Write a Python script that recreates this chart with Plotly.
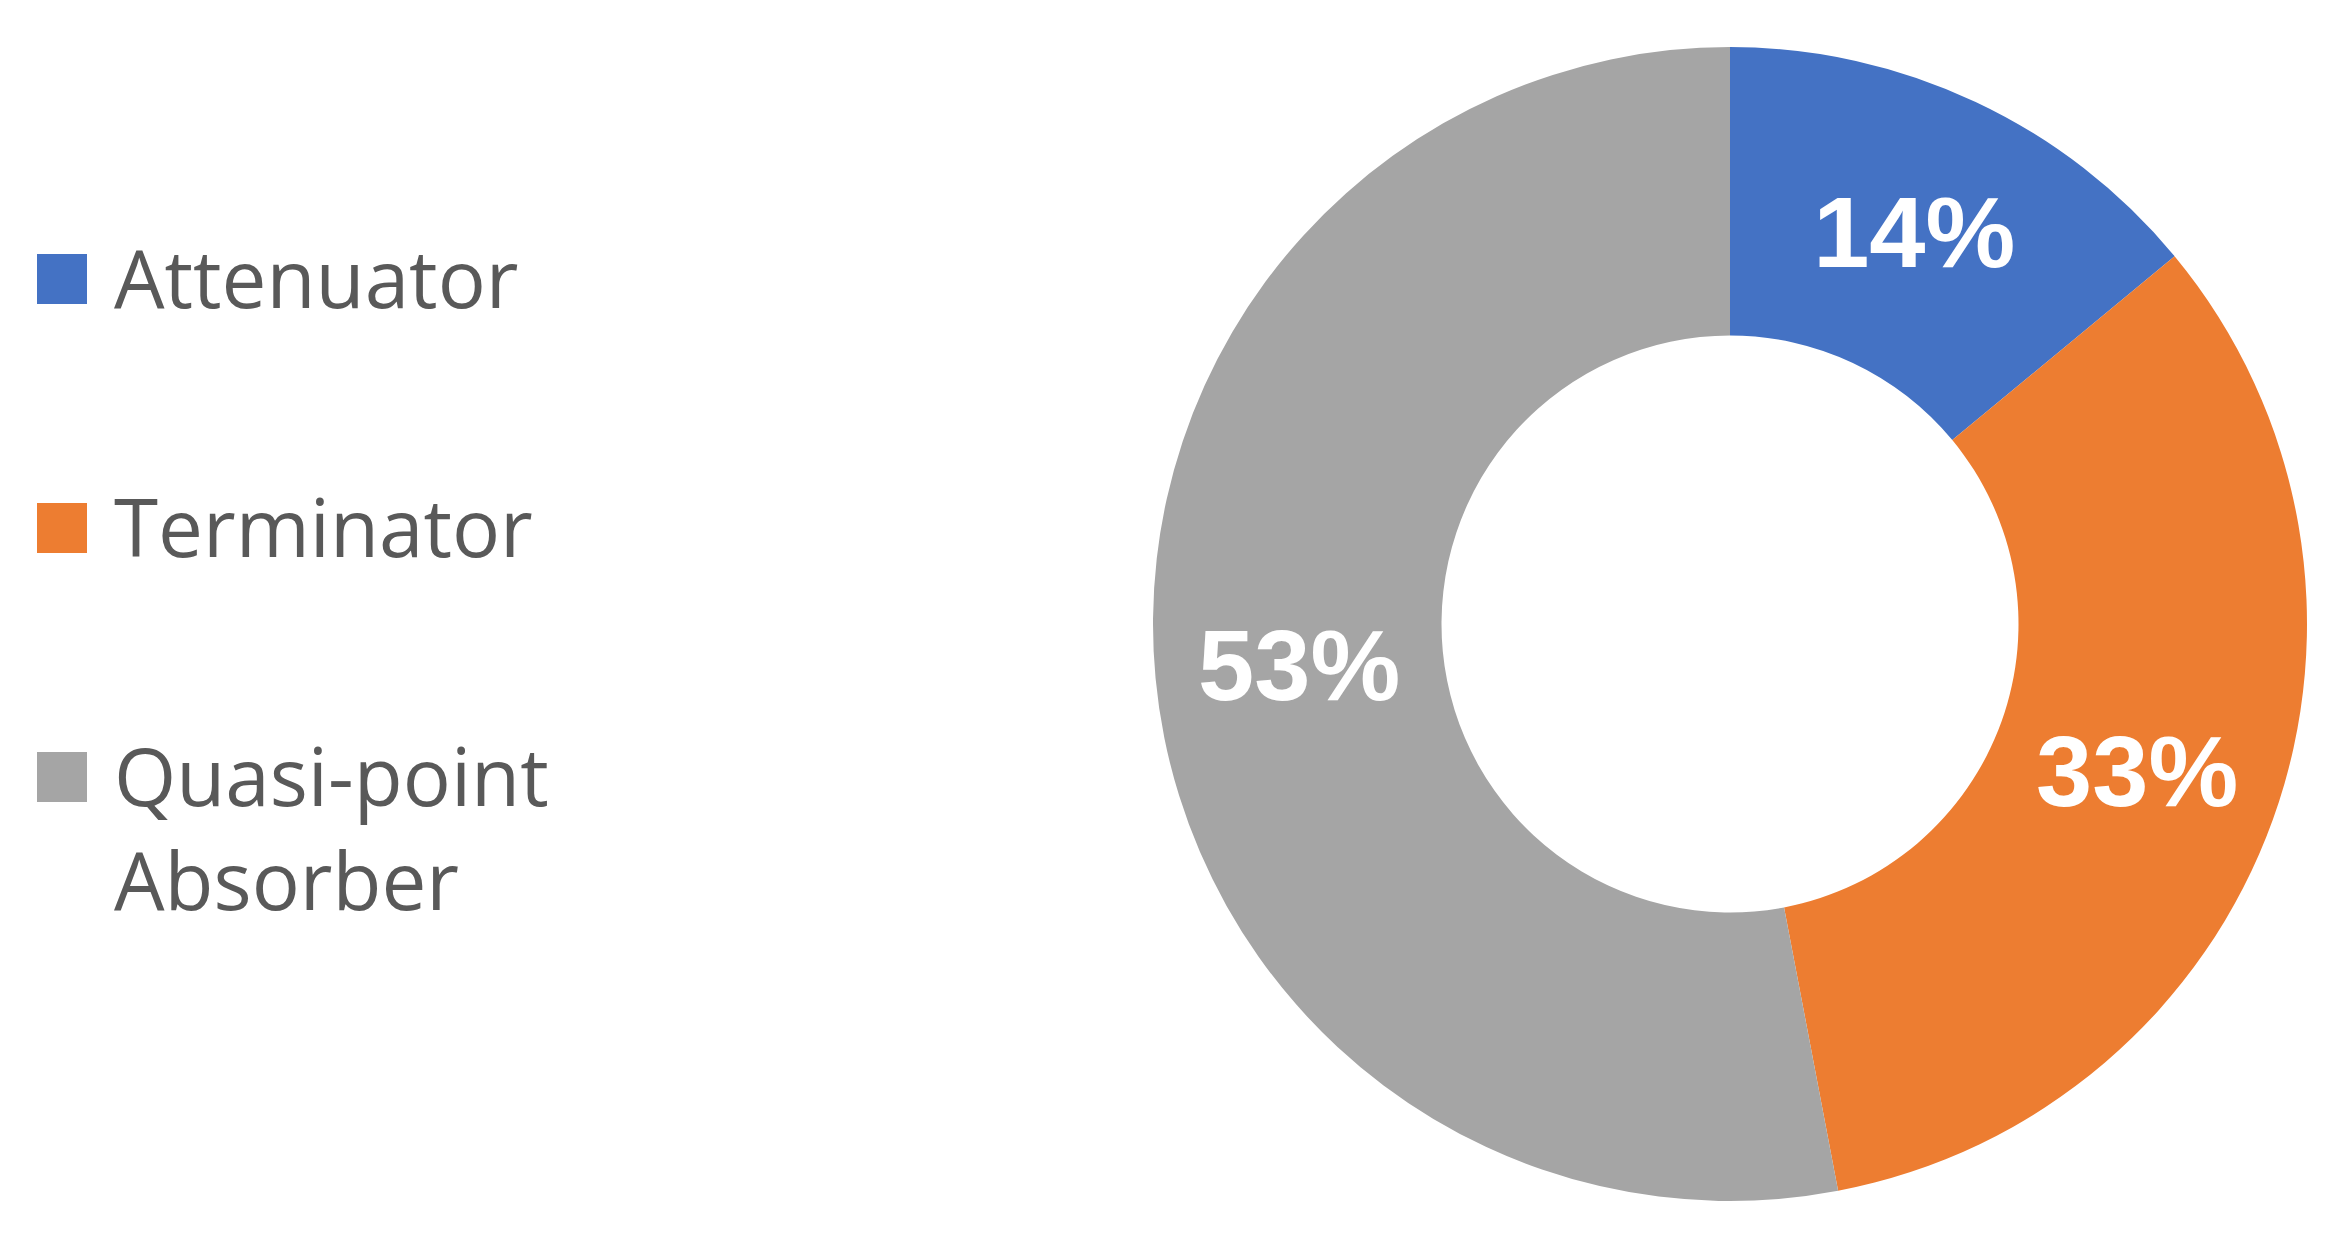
import plotly.graph_objects as go

labels = ["Attenuator", "Terminator", "Quasi-point<br>Absorber"]
values = [14, 33, 53]
colors = ["#4472C4", "#ED7D31", "#A5A5A5"]

W, H = 2342, 1240
OFF = 8  # page body margin offset compensation

cx, cy, r = 1730 - OFF, 624 - OFF, 577

fig = go.Figure()
fig.add_trace(go.Pie(
    labels=labels,
    values=values,
    hole=0.5,
    sort=False,
    direction="clockwise",
    rotation=0,
    marker=dict(colors=colors, line=dict(width=0)),
    textinfo="percent",
    texttemplate="%{percent:.0%}",
    textposition="inside",
    insidetextorientation="horizontal",
    textfont=dict(family="Liberation Sans, Arial", size=101, color="white", weight="bold"),
    domain=dict(x=[(cx - r) / W, (cx + r) / W], y=[1 - (cy + r) / H, 1 - (cy - r) / H]),
    showlegend=False,
))

# manual legend built from the labels / colors
leg_font = 80
sq = 50
x_sq = 37 - OFF
x_txt = 112 - OFF
y_centers = [279 - OFF, 528 - OFF, 777 - OFF]
line_h = leg_font * 1.3
text_dy = -7
shapes = []
annotations = []
for lab, col, yc in zip(labels, colors, y_centers):
    shapes.append(dict(
        type="rect", xref="paper", yref="paper",
        x0=x_sq / W, x1=(x_sq + sq) / W,
        y0=1 - (yc + sq / 2) / H, y1=1 - (yc - sq / 2) / H,
        fillcolor=col, line=dict(width=0),
    ))
    annotations.append(dict(
        text=lab, xref="paper", yref="paper",
        x=x_txt / W, y=1 - (yc - line_h / 2 + text_dy) / H,
        xanchor="left", yanchor="top", align="left",
        showarrow=False,
        font=dict(family="Open Sans", size=leg_font, color="#595959"),
    ))

fig.update_layout(
    width=W, height=H,
    margin=dict(l=0, r=0, t=0, b=0),
    paper_bgcolor="white",
    plot_bgcolor="white",
    shapes=shapes,
    annotations=annotations,
    uniformtext=dict(minsize=101, mode="show"),
)

fig.write_html("out.html")
